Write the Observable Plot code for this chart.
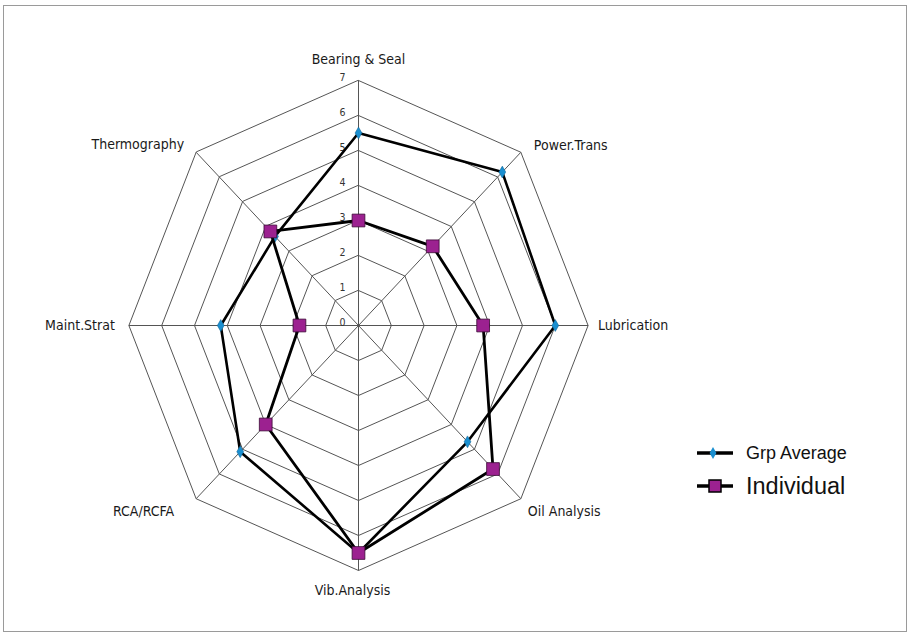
<!DOCTYPE html>
<html>
<head>
<meta charset="utf-8">
<script src="https://cdn.jsdelivr.net/npm/d3@7"></script>
<script src="https://cdn.jsdelivr.net/npm/@observablehq/plot@0.6"></script>
<style>
  html, body { margin: 0; padding: 0; background: #fff; }
  #wrap { position: relative; width: 915px; height: 640px; overflow: hidden; }
  #frame { position: absolute; left: 3px; top: 5px; width: 904px; height: 627px; border: 1px solid #9a9a9a; box-sizing: border-box; pointer-events: none; }
  #legend { position: absolute; left: 697px; top: 438px; font-family: "Liberation Sans", Arial, sans-serif; color: #111; }
  #legend .row { display: flex; align-items: center; }
  #legend svg { display: block; margin-right: 13px; }
</style>
</head>
<body>
<div id="wrap">
  <div id="chart"></div>
  <div id="frame"></div>
  <div id="legend"></div>
</div>
<script>
// ---- data ----
const axes = ["Bearing & Seal", "Power.Trans", "Lubrication", "Oil Analysis", "Vib.Analysis", "RCA/RCFA", "Maint.Strat", "Thermography"];
const grpAverage = [5.5, 6.2, 6.0, 4.7, 6.5, 5.1, 4.2, 3.6];
const individual = [3.0, 3.2, 3.8, 5.8, 6.5, 4.0, 1.8, 3.8];
const ringTicks = [0, 1, 2, 3, 4, 5, 6, 7];
const seriesNames = ["Grp Average", "Individual"];

// ---- geometry helpers ----
const maxV = 7;
const n = axes.length;
const ang = i => (i / n) * 2 * Math.PI; // 0 = top, clockwise
const pt = (i, v) => ({x: v * Math.sin(ang(i)), y: v * Math.cos(ang(i))});

const cx = 358, cy = 325, rx = 229.6, ry = 245; // pixel radii of the value 7
const pxX = rx / maxV, pxY = ry / maxV;

const rings = ringTicks.filter(t => t > 0).flatMap(t => axes.map((a, i) => ({ring: t, ...pt(i, t)})));
const spokes = axes.map((a, i) => ({x1: 0, y1: 0, x2: pt(i, maxV).x, y2: pt(i, maxV).y}));
const avgPts = grpAverage.map((v, i) => pt(i, v));
const indPts = individual.map((v, i) => pt(i, v));

// axis label offsets in pixels, converted to data units
const labelOff = [[0, -21], [13, -7], [10, 0], [7, 13], [-6, 20], [-22, 13], [-14, 0], [-12, -8]];
const labels = axes.map((a, i) => {
  const p = pt(i, maxV);
  const s = Math.sin(ang(i));
  return {
    text: a,
    x: p.x + labelOff[i][0] / pxX,
    y: p.y - labelOff[i][1] / pxY,
    anchor: s > 0.1 ? "start" : s < -0.1 ? "end" : "middle"
  };
});
const tickLabels = ringTicks.map(t => ({text: String(t), x: 0, y: t}));

const labelFont = {fontFamily: "'DejaVu Sans Condensed', 'DejaVu Sans', sans-serif", fontSize: 14, fill: "#1a1a1a"};

const chart = Plot.plot({
  width: 915,
  height: 640,
  margin: 0,
  x: {domain: [-maxV, maxV], range: [cx - rx, cx + rx], axis: null},
  y: {domain: [-maxV, maxV], range: [cy + ry, cy - ry], axis: null},
  marks: [
    Plot.line(rings, {x: "x", y: "y", z: "ring", curve: "linear-closed", stroke: "#555", strokeWidth: 1}),
    Plot.link(spokes, {x1: "x1", y1: "y1", x2: "x2", y2: "y2", stroke: "#555", strokeWidth: 1}),
    Plot.text(tickLabels, {x: "x", y: "y", text: "text", dx: -16, dy: -3, fontSize: 10.5, fill: "#333", fontFamily: "'DejaVu Sans Condensed', 'DejaVu Sans', sans-serif"}),
    ...["start", "middle", "end"].map(an => Plot.text(labels.filter(d => d.anchor === an), {x: "x", y: "y", text: "text", textAnchor: an, ...labelFont})),
    Plot.line(avgPts, {x: "x", y: "y", curve: "linear-closed", stroke: "#000", strokeWidth: 2.6}),
    Plot.dot(avgPts, {x: "x", y: "y", symbol: "diamond", r: 3.6, fill: "#1a8fd0", stroke: "#0d5f8f", strokeWidth: 0.5}),
    Plot.line(indPts, {x: "x", y: "y", curve: "linear-closed", stroke: "#000", strokeWidth: 2.8}),
    Plot.dot(indPts, {x: "x", y: "y", symbol: "square", r: 7.2, fill: "#9c2190", stroke: "#3b0b36", strokeWidth: 0.8})
  ]
});
document.getElementById("chart").appendChild(chart);

// ---- legend ----
const legend = d3.select("#legend");
const rowAvg = legend.append("div").attr("class", "row").style("height", "30px");
const s1 = rowAvg.append("svg").attr("width", 36).attr("height", 20);
s1.append("line").attr("x1", 0).attr("x2", 36).attr("y1", 10).attr("y2", 10).attr("stroke", "#000").attr("stroke-width", 3.5);
s1.append("path").attr("d", d3.symbol(d3.symbolDiamond, 40)()).attr("transform", "translate(16,10)").attr("fill", "#1a8fd0");
rowAvg.append("span").text(seriesNames[0]).style("font-size", "18px");

const rowInd = legend.append("div").attr("class", "row").style("height", "36px");
const s2 = rowInd.append("svg").attr("width", 36).attr("height", 20);
s2.append("line").attr("x1", 0).attr("x2", 36).attr("y1", 10).attr("y2", 10).attr("stroke", "#000").attr("stroke-width", 3.5);
s2.append("rect").attr("x", 12).attr("y", 4).attr("width", 12).attr("height", 12).attr("fill", "#9c2190").attr("stroke", "#000").attr("stroke-width", 1.5);
rowInd.append("span").text(seriesNames[1]).style("font-size", "23.5px");
</script>
</body>
</html>
